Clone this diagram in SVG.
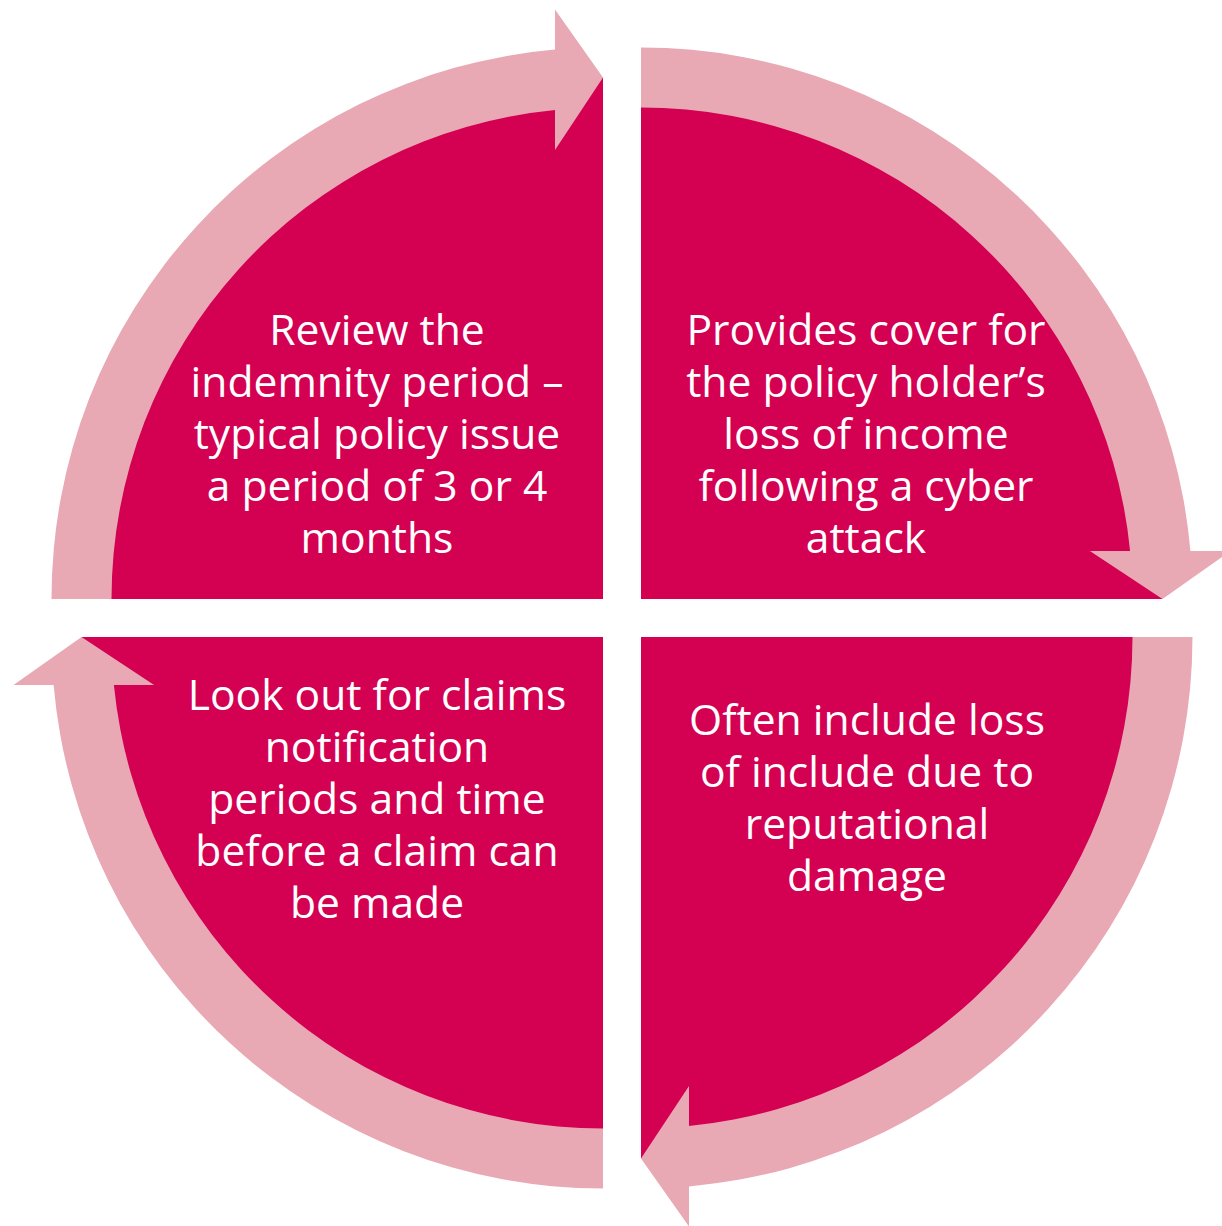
<svg xmlns="http://www.w3.org/2000/svg" width="1222" height="1226" viewBox="0 0 1222 1226">
  <style>
    .sector { fill: #D40052; }
    .band { fill: #E8A9B4; }
    .label { fill: #FFFFFF; font-family: "Open Sans", "Noto Sans", "DejaVu Sans", sans-serif; font-size: 42.6px; text-anchor: middle; }
  </style>
  <rect width="1222" height="1226" fill="#FFFFFF"/>

  <!-- Quadrant sectors, radius 521.5 around each quadrant's inner corner -->
  <g id="node-top-left">
    <path class="sector" d="M 603 599 L 81.5 599 A 521.5 521.5 0 0 1 603 77.5 Z"/>
    <text class="label" x="377" y="345">Review the</text>
    <text class="label" x="377" y="397">indemnity period –</text>
    <text class="label" x="377" y="449">typical policy issue</text>
    <text class="label" x="377" y="501">a period of 3 or 4</text>
    <text class="label" x="377" y="553">months</text>
  </g>
  <g id="node-top-right">
    <path class="sector" d="M 641 599 L 641 77.5 A 521.5 521.5 0 0 1 1162.5 599 Z"/>
    <text class="label" x="866" y="345">Provides cover for</text>
    <text class="label" x="866" y="397">the policy holder’s</text>
    <text class="label" x="866" y="449">loss of income</text>
    <text class="label" x="866" y="501">following a cyber</text>
    <text class="label" x="866" y="553">attack</text>
  </g>
  <g id="node-bottom-right">
    <path class="sector" d="M 641 637 L 1162.5 637 A 521.5 521.5 0 0 1 641 1158.5 Z"/>
    <text class="label" x="867" y="735">Often include loss</text>
    <text class="label" x="867" y="787">of include due to</text>
    <text class="label" x="867" y="839">reputational</text>
    <text class="label" x="867" y="891">damage</text>
  </g>
  <g id="node-bottom-left">
    <path class="sector" d="M 603 637 L 603 1158.5 A 521.5 521.5 0 0 1 81.5 637 Z"/>
    <text class="label" x="377" y="710">Look out for claims</text>
    <text class="label" x="377" y="762">notification</text>
    <text class="label" x="377" y="814">periods and time</text>
    <text class="label" x="377" y="866">before a claim can</text>
    <text class="label" x="377" y="918">be made</text>
  </g>

  <!-- Curved clockwise arrows: band radii 491.5–551.5, heads reach 451.5–591.5 -->
  <g id="connectors">
    <path class="band" d="M 51.5 599 A 551.5 551.5 0 0 1 555 49.6 L 555 9.5 L 603 77.5 L 555 150.1 L 555 109.9 A 491.5 491.5 0 0 0 111.5 599 Z"/>
    <path class="band" d="M 641 47.5 A 551.5 551.5 0 0 1 1190.4 551 L 1230.5 551 L 1162.5 599 L 1089.9 551 L 1130.1 551 A 491.5 491.5 0 0 0 641 107.5 Z"/>
    <path class="band" d="M 1192.5 637 A 551.5 551.5 0 0 1 689 1186.4 L 689 1226.5 L 641 1158.5 L 689 1085.9 L 689 1126.1 A 491.5 491.5 0 0 0 1132.5 637 Z"/>
    <path class="band" d="M 603 1188.5 A 551.5 551.5 0 0 1 53.6 685 L 13.5 685 L 81.5 637 L 154.1 685 L 113.9 685 A 491.5 491.5 0 0 0 603 1128.5 Z"/>
  </g>
</svg>
